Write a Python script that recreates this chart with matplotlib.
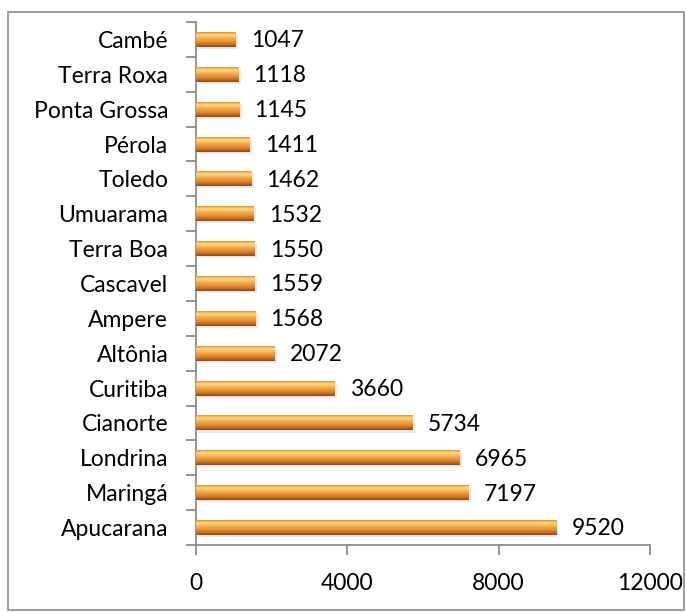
import numpy as np
import matplotlib.pyplot as plt
from matplotlib.colors import LinearSegmentedColormap
from matplotlib.patches import Rectangle

cidades = ["Apucarana", "Maringá", "Londrina", "Cianorte", "Curitiba", "Altônia",
           "Ampere", "Cascavel", "Terra Boa", "Umuarama", "Toledo", "Pérola",
           "Ponta Grossa", "Terra Roxa", "Cambé"]
valores = [9520, 7197, 6965, 5734, 3660, 2072, 1568, 1559, 1550, 1532, 1462,
           1411, 1145, 1118, 1047]
xticks = [0, 4000, 8000, 12000]

plt.rcParams['font.family'] = ['Lato', 'DejaVu Sans']
fs = 16.5

fig = plt.figure(figsize=(6.86, 6.12), dpi=100)
ax = fig.add_axes([196 / 686, 1 - 545 / 612, 454 / 686, 523 / 612])

# moldura externa
fig.patches.append(Rectangle((8 / 686, 2 / 612), 676 / 686, 598 / 612,
                             transform=fig.transFigure, fill=False,
                             edgecolor='#8c8c8c', linewidth=1.2))

y = np.arange(len(cidades))
altura = 0.43

# sombra
ax.barh(y - 0.06, valores, height=altura, left=60, color='#d8d8d8',
        alpha=0.6, zorder=1)
bars = ax.barh(y, valores, height=altura, color='#f0a040', zorder=2)

# gradiente vertical de cada barra
grad = LinearSegmentedColormap.from_list('laranja', [
    (0.0, '#8a4612'), (0.12, '#b8641c'), (0.35, '#e58f30'),
    (0.6, '#f4b050'), (0.8, '#fcd983'), (0.92, '#f6b65a'), (1.0, '#e08a30')])
g = np.linspace(0, 1, 64).reshape(-1, 1)
for b in bars:
    x0, y0 = b.get_x(), b.get_y()
    w, h = b.get_width(), b.get_height()
    im = ax.imshow(g, cmap=grad, aspect='auto', origin='lower',
                   extent=(x0, x0 + w, y0, y0 + h), zorder=3)
    im.set_clip_path(b)

for yi, v in zip(y, valores):
    ax.annotate(str(v), (v, yi), xytext=(11, -1), textcoords='offset points',
                va='center', ha='left', fontsize=fs)

ax.set_xlim(0, 12000)
ax.set_ylim(-0.5, len(cidades) - 0.5)
ax.set_xticks(xticks)
ax.set_xticklabels([str(t) for t in xticks], fontsize=fs)
ax.set_yticks(y)
ax.set_yticklabels(cidades, fontsize=fs)
ax.set_yticks(np.arange(len(cidades) + 1) - 0.5, minor=True)

ax.tick_params(axis='y', which='major', length=0, pad=20)
ax.tick_params(axis='y', which='minor', length=7, width=1.3, color='#8c8c8c')
ax.tick_params(axis='x', length=7, width=1.3, color='#8c8c8c', pad=13)

for s in ['top', 'right']:
    ax.spines[s].set_visible(False)
for s in ['left', 'bottom']:
    ax.spines[s].set_color('#8c8c8c')
    ax.spines[s].set_linewidth(1.3)

plt.savefig("out.png", dpi=100)
